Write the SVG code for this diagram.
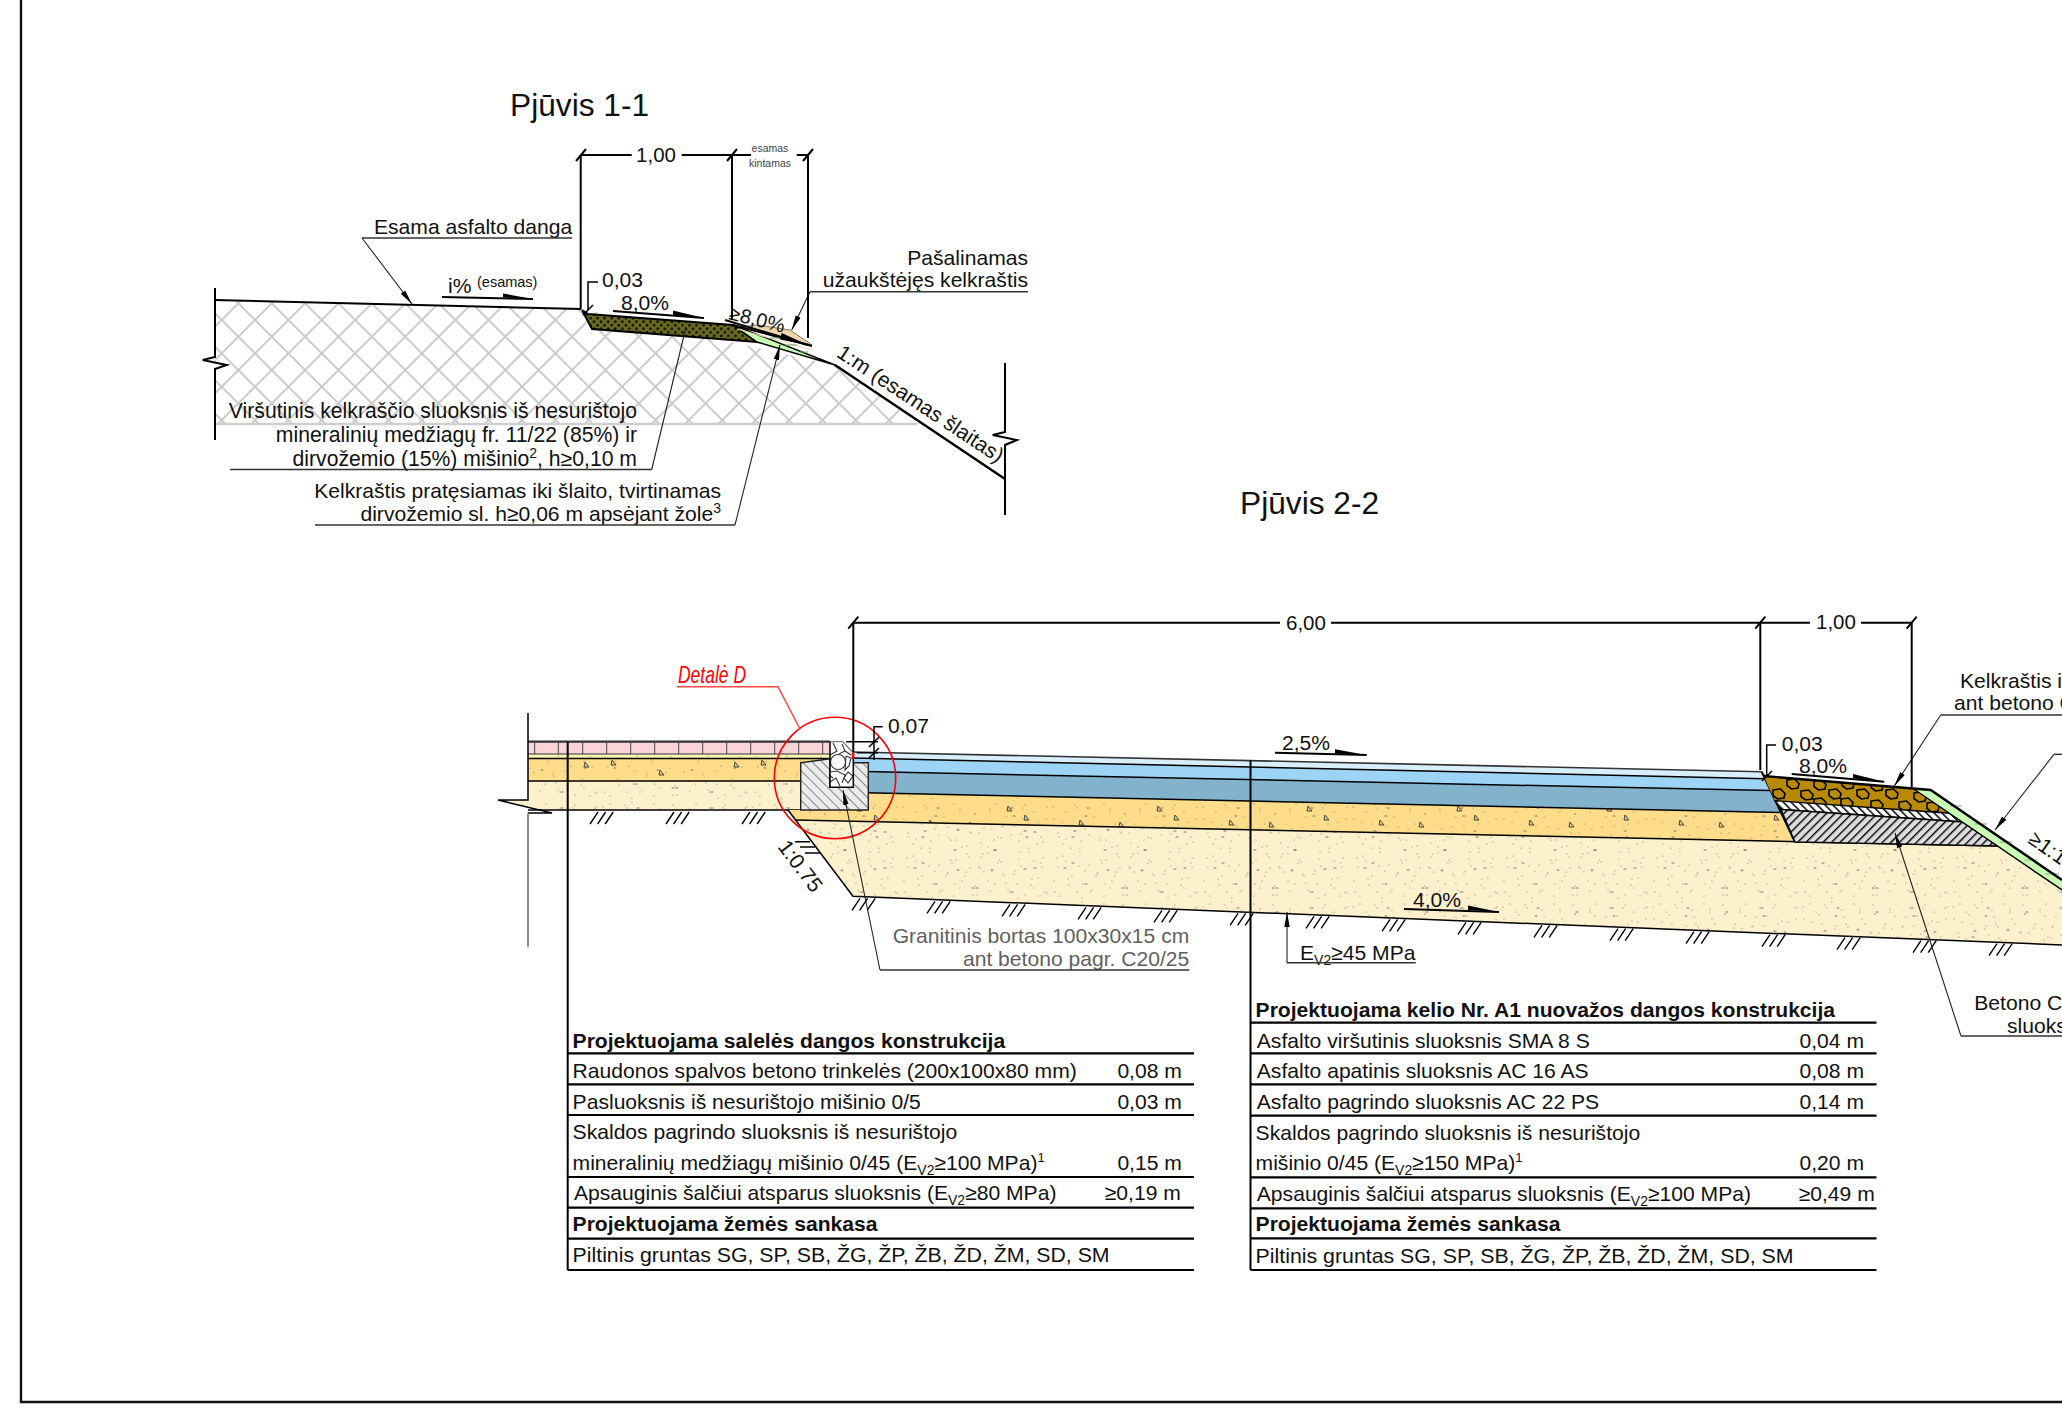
<svg xmlns="http://www.w3.org/2000/svg" xmlns:xlink="http://www.w3.org/1999/xlink" width="2062" height="1428" viewBox="0 0 2062 1428">
<style>
text{font-family:"Liberation Sans",Arial,sans-serif;font-size:21.100px;fill:#111}
.e{text-anchor:end}
.m{text-anchor:middle}
.b{font-weight:700;font-size:21.100px}
.g{fill:#5f5f5f}
.ln{fill:none;stroke:#000;stroke-width:2}
.th{fill:none;stroke:#000;stroke-width:1.5}
.ld{fill:none;stroke:#222;stroke-width:1.1}
.ul{fill:none;stroke:#333;stroke-width:1.4}
.tb{fill:none;stroke:#000;stroke-width:2.2}
.sp{fill:none;stroke:#777;stroke-width:1.050;stroke-linecap:round}
.h{fill:none;stroke:#000;stroke-width:1.4}
</style>
<defs>
<path id="dots" d="M3 7h.1M12 22h.1M25 5h.1M31 41h.1M44 17h.1M52 63h.1M60 9h.1M71 33h.1M83 54h.1M90 12h.1M102 27h.1M115 71h.1M123 8h.1M137 44h.1M146 19h.1M7 58h.1M18 79h.1M29 66h.1M40 92h.1M55 84h.1M66 72h.1M77 95h.1M88 81h.1M99 60h.1M108 90h.1M120 52h.1M131 85h.1M142 67h.1M9 37h.1M21 48h.1M36 26h.1M49 38h.1M62 47h.1M75 14h.1M94 40h.1M111 35h.1M128 24h.1M140 96h.1M5 92h.1M33 84h.1M47 74h.1M69 57h.1M85 24h.1M104 76h.1M118 98h.1M134 61h.1M16 12h.1M58 29h.1M80 68h.1M96 4h.1M37 8h2M72 88h2M113 16h2M24 31h2M91 70h2M126 37h2M14 68h2M54 50h2"/>
<pattern id="sand" patternUnits="userSpaceOnUse" width="150" height="100"><rect width="150" height="100" fill="#fdf0cc"/><use xlink:href="#dots" href="#dots" class="sp"/><use xlink:href="#dots" href="#dots" class="sp" transform="translate(150 100) scale(-1 -1)"/><use xlink:href="#dots" href="#dots" class="sp" transform="translate(150 0) scale(-1 1)"/></pattern>
<pattern id="yellow" patternUnits="userSpaceOnUse" width="150" height="100"><rect width="150" height="100" fill="#fddc8a"/><use xlink:href="#dots" href="#dots" class="sp"/><use xlink:href="#dots" href="#dots" class="sp" transform="translate(150 0) scale(-1 1)"/><path d="M30 20l4 5h-5zM92 44l4 5h-5zM125 15l4 5h-5zM60 70l4 5h-5zM12 60l4 5h-5zM105 85l4 5h-5zM70 22l4 5h-5zM45 48l4 5h-5zM135 62l4 5h-5zM20 88l4 5h-5zM108 6l4 5h-5zM85 90l-3-4h5z" fill="#e8c878" stroke="#444" stroke-width="1"/></pattern>
<pattern id="pale" patternUnits="userSpaceOnUse" width="150" height="5"><rect width="150" height="5" fill="#fdf6b4"/><path d="M5 2h.1M22 3h.1M37 1h.1M55 3h.1M71 2h.1M90 3h.1M108 1h.1M127 3h.1M140 2h.1" class="sp"/></pattern>
<pattern id="xh" patternUnits="userSpaceOnUse" width="23.600" height="23.600" patternTransform="translate(271.700 303.300) rotate(45)"><path d="M0 0V23.600M0 0H23.600M23.600 0V23.600M0 23.600H23.600" fill="none" stroke="#cbcbcb" stroke-width="2"/></pattern>
<pattern id="olive" patternUnits="userSpaceOnUse" width="5" height="5" patternTransform="rotate(45)"><rect width="5" height="5" fill="#6c6c20"/><circle cx="2.500" cy="2.500" r="1.400" fill="#111"/></pattern>
<pattern id="curbh" patternUnits="userSpaceOnUse" width="7" height="7" patternTransform="rotate(-45)"><rect width="7" height="7" fill="#ececec"/><path d="M0 0V7" stroke="#555" stroke-width="1.400"/></pattern>
<pattern id="thin" patternUnits="userSpaceOnUse" width="5.500" height="5.500" patternTransform="rotate(-45)"><rect width="5.500" height="5.500" fill="#fff"/><path d="M0 0V5.500" stroke="#000" stroke-width="3"/></pattern>
<pattern id="conc" patternUnits="userSpaceOnUse" width="6" height="6" patternTransform="rotate(45)"><rect width="6" height="6" fill="#dcdcdc"/><path d="M0 0V6" stroke="#000" stroke-width="2.800"/></pattern>
<path id="hex" d="M-6-4L1.500-5L6-.5L5 4L-1.500 5L-6 1.500Z" fill="none" stroke="#000" stroke-width="1.600"/>
<g id="gh"><path class="h" d="M0 14L8 2M7.600 14L15.600 2M15.200 14L23.200 2"/></g>
<clipPath id="brownclip"><path d="M1763.500 776L1913 788.500L1950 813.300L1775 800.700Z"/></clipPath>
<marker id="arr" markerUnits="userSpaceOnUse" markerWidth="16" markerHeight="8" refX="15" refY="3.500" orient="auto"><path d="M0 .8L15 3.500L0 6.200Z" fill="#000"/></marker>
</defs>
<rect width="2062" height="1428" fill="#fff"/>
<g id="frame"><path d="M21 0V1402H2062" fill="none" stroke="#111" stroke-width="2.400"/></g>

<g id="section-1-1">
<text x="510" y="116" style="font-size:31.700px">Pjūvis 1-1</text>
<path d="M215 300L581 309L835 365L920 424H215Z" fill="url(#xh)"/>
<path d="M215 424H917" stroke="#cfcfcf" stroke-width="2.500" fill="none"/>
<path d="M582 310L588 314L733 325L757 342L592 329Z" fill="url(#olive)" stroke="#000" stroke-width="2"/>
<path d="M740 327L757 325L790 330L812 345L790 340Z" fill="#eed6ae" stroke="#6b5a3a" stroke-width=".8"/>
<path d="M733 325L835 365L757 342Z" fill="#c8ffb4" stroke="#000" stroke-width="1.400"/>
<path d="M733 325L812 346" stroke="#000" stroke-width="2" fill="none"/>
<path d="M737 329L812 350" stroke="#eed6ae" stroke-width="1.200" fill="none"/>
<path d="M770 338h14M785 345h12M800 352h8" stroke="#7a9a70" stroke-width="1" fill="none"/>
<path class="ln" d="M215 288V357L202.700 360L226.700 365L215 369V440"/>
<path class="ln" d="M215 300L581 309"/>
<path d="M835 365L1005 479" fill="none" stroke="#000" stroke-width="2.400"/>
<path class="ln" d="M1005 363V432L992.700 435L1017 440L1005 445V515"/>
<text x="374" y="234">Esama asfalto danga</text>
<text x="448" y="293">i%</text>
<text x="477" y="287" style="font-size:14.500px">(esamas)</text>
<path class="ln" d="M442 297L533 299"/><path d="M503 293.500L533 299L503 297.500Z"/>
<text x="602" y="287">0,03</text>
<text x="621" y="310">8,0%</text>
<path class="ln" d="M613 311L704 318"/><path d="M673 310.500L704 318L673 315.700Z"/>
<text transform="translate(728 319) rotate(14)" style="font-size:20px">≥8,0%</text>
<path class="ln" d="M725 320L808 345"/><path d="M781.700 333L808 345L780 339.500Z"/>
<text x="637" y="418" class="e" style="font-size:21.200px">Viršutinis kelkraščio sluoksnis iš nesurištojo</text>
<text x="637" y="442" class="e" style="font-size:21.200px">mineralinių medžiagų fr. 11/22 (85%) ir</text>
<text x="637" y="466" class="e" style="font-size:21.200px">dirvožemio (15%) mišinio<tspan dy="-8" style="font-size:14px">2</tspan><tspan dy="8">, h≥0,10 m</tspan></text>
<text x="721" y="498" class="e">Kelkraštis pratęsiamas iki šlaito, tvirtinamas</text>
<text x="721" y="521" class="e">dirvožemio sl. h≥0,06 m apsėjant žole<tspan dy="-8" style="font-size:14px">3</tspan></text>
<text x="1028" y="265" class="e">Pašalinamas</text>
<text x="1028" y="287" class="e">užaukštėjęs kelkraštis</text>
<text transform="translate(835.500 356) rotate(33.500)">1:m (esamas šlaitas)</text>
<text x="656" y="162" class="m" style="font-size:20.500px">1,00</text>
<text x="770" y="152" class="m" style="font-size:10.500px;fill:#444">esamas</text>
<text x="770" y="167" class="m" style="font-size:10.500px;fill:#444">kintamas</text>
</g>

<g id="section-2-2">
<text x="1240" y="514" style="font-size:31.700px">Pjūvis 2-2</text>
<g id="sidewalk">
<rect x="528" y="741.700" width="302" height="12.300" fill="#fad4d8"/>
<rect x="528" y="754" width="302" height="4" fill="url(#pale)"/>
<path d="M528 758H830V762L800.700 764V781H528Z" fill="url(#yellow)"/>
<path d="M528 781H800.700V810H540L498 800H528Z" fill="url(#sand)"/>
<path d="M534.700 742V754M558.300 742V754M582.700 742V754M606.700 742V754M630.700 742V754M654.700 742V754M678.700 742V754M702.700 742V754M726.700 742V754M750.700 742V754M774.700 742V754M798.700 742V754M822.700 742V754" stroke="#444" stroke-width="1" fill="none"/>
<path d="M528 741.700H830" stroke="#333" stroke-width="2.200" fill="none"/>
<path d="M528 754H830" stroke="#333" stroke-width="1.200" fill="none"/>
<path d="M528 758.500H830M528 781H800.700M528 810H800.700" class="th"/>
<path d="M528 713V800H498L552 813H528" fill="none" stroke="#000" stroke-width="1.500"/>
<path d="M528 813V947" fill="none" stroke="#666" stroke-width="1.500"/>
</g>
<g id="embankment">
<path d="M788 810L853 896.300L2062 945V890L1998 846L1795 842L795 820Z" fill="url(#sand)"/>
<path d="M788 810H868.300V793L1781 812.400L1795 842L795 820Z" fill="url(#yellow)"/>
<path class="th" d="M788 810L853 896.300L2062 945"/>
<path class="th" d="M795 820L1998 846"/>
</g>
<g id="asphalt">
<path d="M853 752L1761.700 771.700L1765 778.700L853 758Z" fill="#d8eefb"/>
<path d="M853 758L1765 778.700L1770 790.500L853 771.300Z" fill="#9dd4f5"/>
<path d="M853 771.300L1770 790.500L1781 812.400L853 792.500Z" fill="#82b2cc"/>
<path d="M853 752L1761.700 771.700" fill="none" stroke="#333" stroke-width="1.600"/>
<path class="th" d="M853 758L1765 778.700M853 771.300L1770 790.500M853 792.500L1781 812.400"/>
<path class="ln" d="M1761.700 771.700L1795 842"/>
</g>
<g id="shoulder">
<path d="M1763.500 776L1913 788.500L1950 813.300L1775 800.700Z" fill="#b88a00"/>
<g clip-path="url(#brownclip)">
<use xlink:href="#hex" href="#hex" x="1793" y="784"/><use xlink:href="#hex" href="#hex" x="1820" y="785"/><use xlink:href="#hex" href="#hex" x="1835" y="794"/><use xlink:href="#hex" href="#hex" x="1807" y="795"/><use xlink:href="#hex" href="#hex" x="1779" y="794"/><use xlink:href="#hex" href="#hex" x="1863" y="794"/><use xlink:href="#hex" href="#hex" x="1892" y="794"/><use xlink:href="#hex" href="#hex" x="1877" y="805"/><use xlink:href="#hex" href="#hex" x="1905" y="806"/><use xlink:href="#hex" href="#hex" x="1848" y="784"/><use xlink:href="#hex" href="#hex" x="1877" y="786"/><use xlink:href="#hex" href="#hex" x="1820" y="803"/><use xlink:href="#hex" href="#hex" x="1847" y="803"/><use xlink:href="#hex" href="#hex" x="1920" y="797"/><use xlink:href="#hex" href="#hex" x="1933" y="807"/>
</g>
<path d="M1775 800.700L1950 813.300L1963 822L1781 809.500Z" fill="url(#thin)" stroke="#000" stroke-width="1.400"/>
<path d="M1781 809.500L1963 822L1998 846L1795 842Z" fill="url(#conc)" stroke="#000" stroke-width="1.400"/>
<path d="M1913 788.500L1930.700 790L2062 880V890L1998 846Z" fill="#c8ffb4"/>
<path d="M1950 806h12M1975 824h12M2000 842h12M2025 860h12M2045 874h14" stroke="#8aa884" stroke-width="1.200" fill="none"/>
<path d="M1913 788.500L2062 890" class="th"/>
<path d="M1763.500 776L1930.700 790L2062 880" fill="none" stroke="#000" stroke-width="2.400"/>
</g>
<g id="curb">
<path d="M800.700 762.700L830 758.700V787.300H853.300V762.700H868.300V810H800.700Z" fill="url(#curbh)" stroke="#222" stroke-width="1.400"/>
<path d="M830 741.700H842.700L853.300 753V787.300H830Z" fill="#fff"/>
<circle cx="838" cy="762" r="7.500" fill="#fff" stroke="#333" stroke-width="1.100"/>
<path d="M830 755L837 751L833 743M842 744L845 751L839 754M846 756L851 758L849 766L845 770L846 756M830 772L837 771L845 775L842 783M830 782L836 778L840 786M848 772L853 776L848 783L844 778ZM845 751L851 755M833 778L829 775" fill="none" stroke="#333" stroke-width="1.100"/>
<path d="M830 741.700V787.300H853.300V753" fill="none" stroke="#000" stroke-width="1.500"/>
<path d="M830 741.700H842.700L853.300 753" fill="none" stroke="#777" stroke-width="1.200"/>
<path d="M853 752.500V759" stroke="#f00" stroke-width="2.600" fill="none"/>
</g>
<g id="ground-hatch">
<use xlink:href="#gh" href="#gh" x="590" y="810"/><use xlink:href="#gh" href="#gh" x="666" y="810"/><use xlink:href="#gh" href="#gh" x="742" y="810"/>
<use xlink:href="#gh" href="#gh" x="852" y="896.300"/><use xlink:href="#gh" href="#gh" x="927" y="899.300"/><use xlink:href="#gh" href="#gh" x="1002" y="902.300"/><use xlink:href="#gh" href="#gh" x="1078" y="905.300"/><use xlink:href="#gh" href="#gh" x="1154" y="908.300"/><use xlink:href="#gh" href="#gh" x="1230" y="911.300"/><use xlink:href="#gh" href="#gh" x="1306" y="914.400"/><use xlink:href="#gh" href="#gh" x="1382" y="917.400"/><use xlink:href="#gh" href="#gh" x="1458" y="920.400"/><use xlink:href="#gh" href="#gh" x="1534" y="923.400"/><use xlink:href="#gh" href="#gh" x="1610" y="926.700"/><use xlink:href="#gh" href="#gh" x="1686" y="929.700"/><use xlink:href="#gh" href="#gh" x="1762" y="932.700"/><use xlink:href="#gh" href="#gh" x="1837" y="935.700"/><use xlink:href="#gh" href="#gh" x="1913" y="938.700"/><use xlink:href="#gh" href="#gh" x="1989" y="941.700"/>
<path class="h" d="M795 841.700H810M800 847H815M805 853H820"/>
</g>
<g id="detail-d">
<circle cx="835" cy="778" r="60.700" fill="none" stroke="#f00" stroke-width="1.600"/>
<path d="M677 686.700H778L800 729" fill="none" stroke="#f44" stroke-width="1.500"/>
<text x="678" y="682.700" textLength="68" lengthAdjust="spacingAndGlyphs" style="font-size:24px;font-style:italic;fill:#f00">Detalė D</text>
</g>
<text transform="translate(777 847) rotate(53)">1:0.75</text>
<text x="888" y="733">0,07</text>
<text x="1282" y="750">2,5%</text>
<path class="ln" d="M1275 752.700L1366.700 755"/><path d="M1335 749.300L1366.700 755L1335 753.700Z"/>
<text x="1413" y="907">4,0%</text>
<path class="ln" d="M1404 909L1499 912"/><path d="M1468 905.500L1499 912L1468 910Z"/>
<text x="1781.700" y="751">0,03</text>
<text x="1799" y="773">8,0%</text>
<path class="ln" d="M1791.700 774L1884.300 781.700"/><path d="M1853 774L1884.300 781.700L1853 778.300Z"/>
<text x="1189.300" y="943" class="e g">Granitinis bortas 100x30x15 cm</text>
<text x="1189.300" y="966" class="e g">ant betono pagr. C20/25</text>
<text x="1300" y="960">E<tspan dy="5" style="font-size:14px">V2</tspan><tspan dy="-5">≥45 MPa</tspan></text>
<text x="1960" y="688">Kelkraštis i</text>
<text x="1954" y="710">ant betono C</text>
<text x="1974.300" y="1010">Betono C</text>
<text x="2007" y="1033">sluoks</text>
<text transform="translate(2027 842) rotate(35)">≥1:1</text>
<text x="1286" y="630" style="font-size:20.500px">6,00</text>
<text x="1816" y="629" style="font-size:20.500px">1,00</text>
</g>

<g id="table-sidewalk">
<text x="572.600" y="1047.700" class="b">Projektuojama salelės dangos konstrukcija</text>
<text x="572.600" y="1077.700">Raudonos spalvos betono trinkelės (200x100x80 mm)</text>
<text x="1117.400" y="1077.700">0,08 m</text>
<text x="572.600" y="1108.700">Pasluoksnis iš nesurištojo mišinio 0/5</text>
<text x="1117.400" y="1108.700">0,03 m</text>
<text x="572.600" y="1139.300">Skaldos pagrindo sluoksnis iš nesurištojo</text>
<text x="572.600" y="1170">mineralinių medžiagų mišinio 0/45 (E<tspan dy="5" style="font-size:14px">V2</tspan><tspan dy="-5">≥100 MPa)</tspan><tspan dy="-8" style="font-size:13px">1</tspan></text>
<text x="1117.400" y="1170">0,15 m</text>
<text x="574" y="1200.300">Apsauginis šalčiui atsparus sluoksnis (E<tspan dy="5" style="font-size:14px">V2</tspan><tspan dy="-5">≥80 MPa)</tspan></text>
<text x="1104.800" y="1200.300">≥0,19 m</text>
<text x="572.600" y="1231" class="b">Projektuojama žemės sankasa</text>
<text x="572.600" y="1262.300" textLength="537" lengthAdjust="spacingAndGlyphs">Piltinis gruntas SG, SP, SB, ŽG, ŽP, ŽB, ŽD, ŽM, SD, SM</text>
<path class="tb" d="M567.600 1053.300H1194M567.600 1084.300H1194M567.600 1115H1194M567.600 1177H1194M567.600 1207.700H1194M567.600 1238.700H1194M567.600 1270H1194"/>
</g>
<g id="table-road">
<text x="1255.600" y="1016.700" class="b">Projektuojama kelio Nr. A1 nuovažos dangos konstrukcija</text>
<text x="1256.800" y="1047.700">Asfalto viršutinis sluoksnis SMA 8 S</text>
<text x="1799.500" y="1047.700">0,04 m</text>
<text x="1256.800" y="1077.700">Asfalto apatinis sluoksnis AC 16 AS</text>
<text x="1799.500" y="1077.700">0,08 m</text>
<text x="1256.800" y="1108.700">Asfalto pagrindo sluoksnis AC 22 PS</text>
<text x="1799.500" y="1108.700">0,14 m</text>
<text x="1255.600" y="1140">Skaldos pagrindo sluoksnis iš nesurištojo</text>
<text x="1255.600" y="1170">mišinio 0/45 (E<tspan dy="5" style="font-size:14px">V2</tspan><tspan dy="-5">≥150 MPa)</tspan><tspan dy="-8" style="font-size:13px">1</tspan></text>
<text x="1799.500" y="1170">0,20 m</text>
<text x="1256.800" y="1200.700">Apsauginis šalčiui atsparus sluoksnis (E<tspan dy="5" style="font-size:14px">V2</tspan><tspan dy="-5">≥100 MPa)</tspan></text>
<text x="1798.700" y="1200.700">≥0,49 m</text>
<text x="1255.600" y="1230.700" class="b">Projektuojama žemės sankasa</text>
<text x="1255.600" y="1262.700" textLength="538" lengthAdjust="spacingAndGlyphs">Piltinis gruntas SG, SP, SB, ŽG, ŽP, ŽB, ŽD, ŽM, SD, SM</text>
<path class="tb" d="M1250.500 1022.700H1876.500M1250.500 1053.300H1876.500M1250.500 1084.300H1876.500M1250.500 1115.700H1876.500M1250.500 1177.300H1876.500M1250.500 1208.300H1876.500M1250.500 1238.300H1876.500M1250.500 1270H1876.500"/>
</g>

<g id="connectors">
<path class="ul" d="M572 238H362"/><path class="ld" marker-end="url(#arr)" d="M362 238L412 304"/>
<path class="ul" d="M230 469.500H651.700"/><path class="ld" d="M651.700 469.500L686 327"/>
<path class="ul" d="M315 525H735"/><path class="ld" marker-end="url(#arr)" d="M735 525L780 345"/>
<path class="ul" d="M1028 291.700H810"/><path class="ld" marker-end="url(#arr)" d="M810 291.700L791.700 330"/>
<path class="ul" d="M1189.300 970H880"/><path class="ld" marker-end="url(#arr)" d="M880 970L843 790"/>
<path class="ul" d="M1415.700 962.700H1287"/><path class="ld" marker-end="url(#arr)" d="M1287 962.700V912"/>
<path class="ul" d="M2062 715H1940.700"/><path class="ld" marker-end="url(#arr)" d="M1940.700 715L1894.300 786"/>
<path class="ul" d="M2062 754.300H2054"/><path class="ld" marker-end="url(#arr)" d="M2054 754.300L1995 830"/>
<path class="ul" d="M2062 1036H1961"/><path class="ld" marker-end="url(#arr)" d="M1961 1036L1895 833"/>
<path class="ln" d="M580.700 155V309M732 155V320M808 155V338M580.700 155H631.700M681.700 155H751M796.700 155H808"/>
<path class="ln" d="M576 161L586 149M727 161L737 149M803 161L813 149"/>
<path class="th" d="M598 282H588V311M583 315L593 305"/>
<path class="th" d="M882.700 726.700H874V760M846 741.700H878M856.700 752.700H878"/>
<path class="th" d="M869 747L879 737M869 758L879 748"/>
<path class="th" d="M1776 745H1766.700V777M1762 781L1772 771"/>
<path class="ln" d="M853.300 622.700V752M1760.300 622.700V770M1911.700 622.700V787M853.300 622.700H1280M1331 622.700H1810M1861 622.700H1911.700"/>
<path class="ln" d="M848.300 628.700L858.300 616.700M1755.300 628.700L1765.300 616.700M1906.700 628.700L1916.700 616.700"/>
<path class="ln" d="M567.700 741.700V1270"/>
<path class="ln" d="M1250.500 760.500V1270"/>
</g>
</svg>
